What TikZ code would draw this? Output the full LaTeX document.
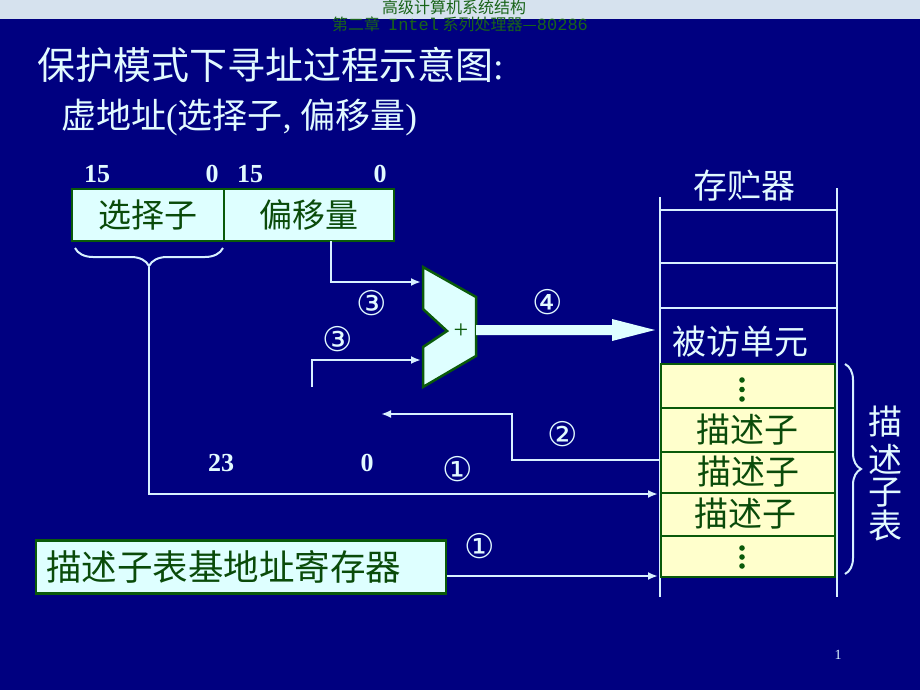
\documentclass[tikz,border=0pt]{standalone}
\usepackage{fontspec}
\setmainfont{Liberation Serif}
\newfontfamily\cjk{Noto Sans CJK SC}
\newfontfamily\symf{DejaVu Sans}
\newfontfamily\monof{Liberation Mono}
\usetikzlibrary{arrows.meta,decorations.pathreplacing}
\definecolor{bgnavy}{RGB}{0,0,128}
\definecolor{lighttxt}{RGB}{226,250,255}
\definecolor{linec}{RGB}{215,240,255}
\definecolor{boxfill}{RGB}{222,255,255}
\definecolor{grn}{RGB}{10,90,10}
\definecolor{grntxt}{RGB}{10,75,10}
\definecolor{yel}{RGB}{255,255,204}
\definecolor{strip}{RGB}{214,226,238}
\definecolor{hdrgrn}{RGB}{25,100,25}
\newcommand{\myfs}[1]{\fontsize{#1}{#1}\selectfont}
\begin{document}
\begin{tikzpicture}[x=1pt,y=-1pt,
  conn/.style={draw=linec,line width=2.5pt},
  arr/.style={conn,-{Latex[length=10pt,width=8pt]}},
  memline/.style={draw=linec,line width=2.8pt},
  vbox/.style={draw=grn,fill=boxfill,line width=2.8pt,text=grntxt,font=\cjk\myfs{33},inner sep=0pt},
  lbl/.style={text=lighttxt,inner sep=0pt},
  bitlbl/.style={lbl,font=\bfseries\myfs{26}},
  circ/.style={lbl,font=\symf\myfs{34}},
  rowtxt/.style={text=grntxt,font=\cjk\myfs{34},inner sep=0pt},
  memtxt/.style={lbl,font=\cjk\myfs{34}},
  dot/.style={fill=grn}]
\useasboundingbox (0,0) rectangle (920,690);
\fill[bgnavy] (0,0) rectangle (920,690);
\fill[strip] (0,0) rectangle (920,19);
% header
\node[text=hdrgrn,font=\cjk\myfs{16},inner sep=0pt] (hdr1) at (454,7.5) {高级计算机系统结构};
\node[text=hdrgrn,font=\cjk\myfs{16},inner sep=0pt] (hdr2) at (460,24.5) {第二章\hspace{8pt}{\monof\myfs{17}Intel} 系列处理器—{\monof\myfs{17}80286}};
% titles
\node[lbl,anchor=west,font=\cjk\myfs{38}] (title) at (37,65) {保护模式下寻址过程示意图{\rmfamily:}};
\node[lbl,anchor=west,font=\myfs{35}] (sub) at (61,117) {{\cjk 虚地址}({\cjk 选择子}, {\cjk 偏移量})};
% bit numbers
\node[bitlbl] (b15a) at (97,174) {15};
\node[bitlbl] (b0a) at (212,174) {0};
\node[bitlbl] (b15b) at (250,174) {15};
\node[bitlbl] (b0b) at (380,174) {0};
% virtual address boxes
\node[vbox,minimum width=152pt,minimum height=52pt] (sel) at (148,215) {选择子};
\node[vbox,minimum width=170pt,minimum height=52pt] (off) at (309,215) {偏移量};
% brace under selector
\draw[draw=linec,line width=2pt,decorate,decoration={brace,mirror,amplitude=18pt}] (75,248) -- (223,248);
\coordinate (btip) at (149,267);
\coordinate (bcorner) at (149,494);
\coordinate (dtin1) at (658,494);
\draw[arr] (btip) -- (bcorner) -- (dtin1);
% adder
\coordinate (addA) at (423,267);
\coordinate (addB) at (476,297);
\coordinate (addC) at (476,356);
\coordinate (addD) at (423,387);
\coordinate (addE) at (423,347);
\coordinate (addF) at (447,331);
\coordinate (addG) at (423,309);
\draw[fill=boxfill,draw=grn,line width=2.5pt,line join=miter] (addA) -- (addB) -- (addC) -- (addD) -- (addE) -- (addF) -- (addG) -- cycle;
\node[text=grn,font=\myfs{26},inner sep=0pt] (plus) at (461,331) {+};
\coordinate (offdown) at (331,241);
\coordinate (offcorner) at (331,282);
\coordinate (addin1) at (421,282);
\draw[arr] (offdown) -- (offcorner) -- (addin1);
\coordinate (in2start) at (312,387);
\coordinate (in2corner) at (312,360);
\coordinate (addin2) at (421,360);
\draw[arr] (in2start) -- (in2corner) -- (addin2);
\node[circ] (c3a) at (372,303) {③};
\node[circ] (c3b) at (338,339) {③};
% thick arrow
\fill[boxfill] (476,325) -- (612,325) -- (612,319) -- (655,330) -- (612,341) -- (612,335) -- (476,335) -- cycle;
\node[circ] (c4) at (548,302) {④};
% memory
\draw[memline] (660,197) -- (660,597);
\draw[memline] (837,188) -- (837,597);
\draw[memline] (660,210) -- (837,210);
\draw[memline] (660,263) -- (837,263);
\draw[memline] (660,308) -- (837,308);
\node[memtxt] (mem) at (744,186) {存贮器};
\node[memtxt] (target) at (740,342) {被访单元};
% descriptor table
\draw[fill=yel,draw=grn,line width=2.8pt] (661,364) rectangle (835,577);
\draw[draw=grn,line width=2.8pt] (661,408) -- (835,408) (661,452) -- (835,452) (661,493) -- (835,493) (661,536) -- (835,536);
\fill[dot] (742,380) circle (2.8pt) (742,389.5) circle (2.8pt) (742,399) circle (2.8pt);
\fill[dot] (742,548) circle (2.8pt) (742,557) circle (2.8pt) (742,566) circle (2.8pt);
\node[rowtxt] (d1) at (747,430) {描述子};
\node[rowtxt] (d2) at (748,472) {描述子};
\node[rowtxt] (d3) at (745,514) {描述子};
\draw[draw=linec,line width=2pt,decorate,decoration={brace,amplitude=16pt}] (845,364) -- (845,574);
\node[memtxt] (tl1) at (885,422) {描};
\node[memtxt] (tl2) at (885,459) {述};
\node[memtxt] (tl3) at (885,493) {子};
\node[memtxt] (tl4) at (885,526) {表};
% arrow 2
\coordinate (dtout) at (660,460);
\coordinate (r2a) at (512,460);
\coordinate (r2b) at (512,414);
\coordinate (r2end) at (381,414);
\draw[arr] (dtout) -- (r2a) -- (r2b) -- (r2end);
\node[circ] (c2) at (563,434) {②};
\node[bitlbl] (b23) at (221,463) {23};
\node[bitlbl] (b0c) at (367,463) {0};
\node[circ] (c1a) at (458,469) {①};
% base register
\node[vbox,minimum width=410pt,minimum height=53pt] (gdtr) at (241,567) {};
\node[rowtxt,anchor=west,font=\cjk\myfs{35.5}] (gdtrtxt) at (46,567) {描述子表基地址寄存器};
\coordinate (dtin2) at (658,576);
\draw[arr] (gdtr.east |- dtin2) -- (dtin2);
\node[circ] (c1b) at (480,546) {①};
% page number
\node[lbl,font=\myfs{14}] (pg) at (838,655) {1};
\end{tikzpicture}
\end{document}
